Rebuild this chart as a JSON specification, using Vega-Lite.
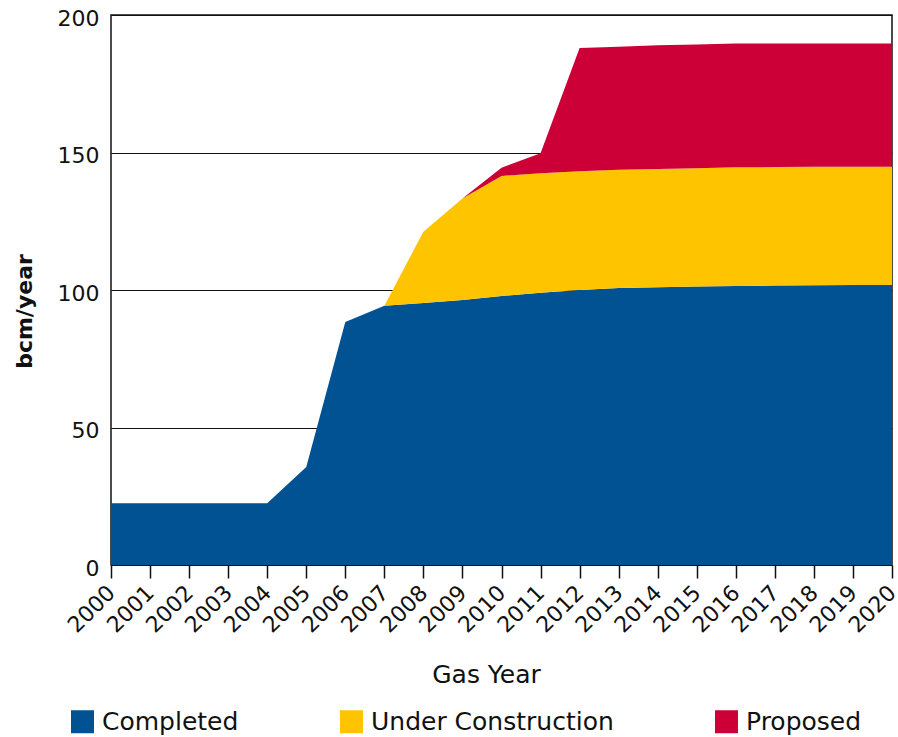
{
  "$schema": "https://vega.github.io/schema/vega-lite/v6.json",
  "width": 781,
  "height": 550,
  "autosize": {"type": "none"},
  "padding": {"left": 111, "top": 15, "right": 6, "bottom": 172},
  "background": "white",
  "config": {
    "font": "DejaVu Sans",
    "view": {"stroke": "#111111", "strokeWidth": 1.5}
  },
  "data": {
    "values": [
      {"year": 2000, "status": "Completed", "bcm": 22.5},
      {"year": 2001, "status": "Completed", "bcm": 22.5},
      {"year": 2002, "status": "Completed", "bcm": 22.5},
      {"year": 2003, "status": "Completed", "bcm": 22.5},
      {"year": 2004, "status": "Completed", "bcm": 22.5},
      {"year": 2005, "status": "Completed", "bcm": 35.6},
      {"year": 2006, "status": "Completed", "bcm": 88.4},
      {"year": 2007, "status": "Completed", "bcm": 94.3},
      {"year": 2008, "status": "Completed", "bcm": 95.3},
      {"year": 2009, "status": "Completed", "bcm": 96.4},
      {"year": 2010, "status": "Completed", "bcm": 97.8},
      {"year": 2011, "status": "Completed", "bcm": 99.0},
      {"year": 2012, "status": "Completed", "bcm": 100.0},
      {"year": 2013, "status": "Completed", "bcm": 100.7},
      {"year": 2014, "status": "Completed", "bcm": 101.0},
      {"year": 2015, "status": "Completed", "bcm": 101.3},
      {"year": 2016, "status": "Completed", "bcm": 101.5},
      {"year": 2017, "status": "Completed", "bcm": 101.6},
      {"year": 2018, "status": "Completed", "bcm": 101.7},
      {"year": 2019, "status": "Completed", "bcm": 101.8},
      {"year": 2020, "status": "Completed", "bcm": 101.8},
      {"year": 2000, "status": "Under Construction", "bcm": 0},
      {"year": 2001, "status": "Under Construction", "bcm": 0},
      {"year": 2002, "status": "Under Construction", "bcm": 0},
      {"year": 2003, "status": "Under Construction", "bcm": 0},
      {"year": 2004, "status": "Under Construction", "bcm": 0},
      {"year": 2005, "status": "Under Construction", "bcm": 0},
      {"year": 2006, "status": "Under Construction", "bcm": 0},
      {"year": 2007, "status": "Under Construction", "bcm": 0},
      {"year": 2008, "status": "Under Construction", "bcm": 25.9},
      {"year": 2009, "status": "Under Construction", "bcm": 36.9},
      {"year": 2010, "status": "Under Construction", "bcm": 43.7},
      {"year": 2011, "status": "Under Construction", "bcm": 43.5},
      {"year": 2012, "status": "Under Construction", "bcm": 43.2},
      {"year": 2013, "status": "Under Construction", "bcm": 43.0},
      {"year": 2014, "status": "Under Construction", "bcm": 43.0},
      {"year": 2015, "status": "Under Construction", "bcm": 43.0},
      {"year": 2016, "status": "Under Construction", "bcm": 43.1},
      {"year": 2017, "status": "Under Construction", "bcm": 43.1},
      {"year": 2018, "status": "Under Construction", "bcm": 43.1},
      {"year": 2019, "status": "Under Construction", "bcm": 43.0},
      {"year": 2020, "status": "Under Construction", "bcm": 43.0},
      {"year": 2000, "status": "Proposed", "bcm": 0},
      {"year": 2001, "status": "Proposed", "bcm": 0},
      {"year": 2002, "status": "Proposed", "bcm": 0},
      {"year": 2003, "status": "Proposed", "bcm": 0},
      {"year": 2004, "status": "Proposed", "bcm": 0},
      {"year": 2005, "status": "Proposed", "bcm": 0},
      {"year": 2006, "status": "Proposed", "bcm": 0},
      {"year": 2007, "status": "Proposed", "bcm": 0},
      {"year": 2008, "status": "Proposed", "bcm": 0},
      {"year": 2009, "status": "Proposed", "bcm": 0},
      {"year": 2010, "status": "Proposed", "bcm": 3.0},
      {"year": 2011, "status": "Proposed", "bcm": 7.2},
      {"year": 2012, "status": "Proposed", "bcm": 44.8},
      {"year": 2013, "status": "Proposed", "bcm": 44.8},
      {"year": 2014, "status": "Proposed", "bcm": 45.0},
      {"year": 2015, "status": "Proposed", "bcm": 45.0},
      {"year": 2016, "status": "Proposed", "bcm": 45.0},
      {"year": 2017, "status": "Proposed", "bcm": 44.9},
      {"year": 2018, "status": "Proposed", "bcm": 44.8},
      {"year": 2019, "status": "Proposed", "bcm": 44.8},
      {"year": 2020, "status": "Proposed", "bcm": 44.8}
    ]
  },
  "transform": [
    {"calculate": "indexof(['Completed','Under Construction','Proposed'], datum.status)", "as": "stackOrder"}
  ],
  "mark": {"type": "area", "interpolate": "linear"},
  "encoding": {
    "x": {
      "field": "year",
      "type": "quantitative",
      "scale": {"domain": [2000, 2020], "nice": false, "zero": false},
      "axis": {
        "title": "Gas Year",
        "values": [2000,2001,2002,2003,2004,2005,2006,2007,2008,2009,2010,2011,2012,2013,2014,2015,2016,2017,2018,2019,2020],
        "format": "d",
        "domain": false,
        "grid": false,
        "ticks": true,
        "tickColor": "#111111",
        "tickWidth": 1.5,
        "tickSize": 13,
        "labelAngle": -45,
        "labelAlign": "right",
        "labelBaseline": "middle",
        "labelPadding": 11,
        "labelFontSize": 22,
        "labelColor": "#111111",
        "labelOverlap": false,
        "labelFlush": false,
        "titleFontSize": 25,
        "titleFontWeight": "normal",
        "titleColor": "#111111",
        "titleX": 375,
        "titleY": 109,
        "titleBaseline": "middle",
        "titleAnchor": "middle"
      }
    },
    "y": {
      "field": "bcm",
      "type": "quantitative",
      "stack": "zero",
      "scale": {"domain": [0, 200], "nice": false},
      "axis": {
        "title": "bcm/year",
        "values": [0, 50, 100, 150, 200],
        "domain": false,
        "ticks": false,
        "grid": true,
        "gridColor": "#111111",
        "gridWidth": 1.2,
        "gridOpacity": 1,
        "labelFontSize": 22,
        "labelColor": "#111111",
        "labelPadding": 12,
        "labelOffset": 3,
        "labelFlush": false,
        "titleFontSize": 22,
        "titleFontWeight": "bold",
        "titleColor": "#111111",
        "titleX": -87,
        "titleY": 296,
        "titleAngle": -90,
        "titleBaseline": "middle",
        "titleAnchor": "middle"
      }
    },
    "color": {
      "field": "status",
      "type": "nominal",
      "sort": ["Completed", "Under Construction", "Proposed"],
      "scale": {
        "domain": ["Completed", "Under Construction", "Proposed"],
        "range": ["#005293", "#FFC400", "#CC0036"]
      },
      "legend": {
        "title": null,
        "orient": "none",
        "direction": "horizontal",
        "columns": 3,
        "legendX": -41,
        "legendY": 694,
        "padding": 0,
        "columnPadding": 100,
        "symbolType": "square",
        "symbolSize": 529,
        "symbolStrokeWidth": 0,
        "symbolOpacity": 1,
        "labelFontSize": 25,
        "labelColor": "#111111",
        "labelOffset": 7,
        "labelLimit": 400
      }
    },
    "order": {"field": "stackOrder", "type": "quantitative"}
  }
}
